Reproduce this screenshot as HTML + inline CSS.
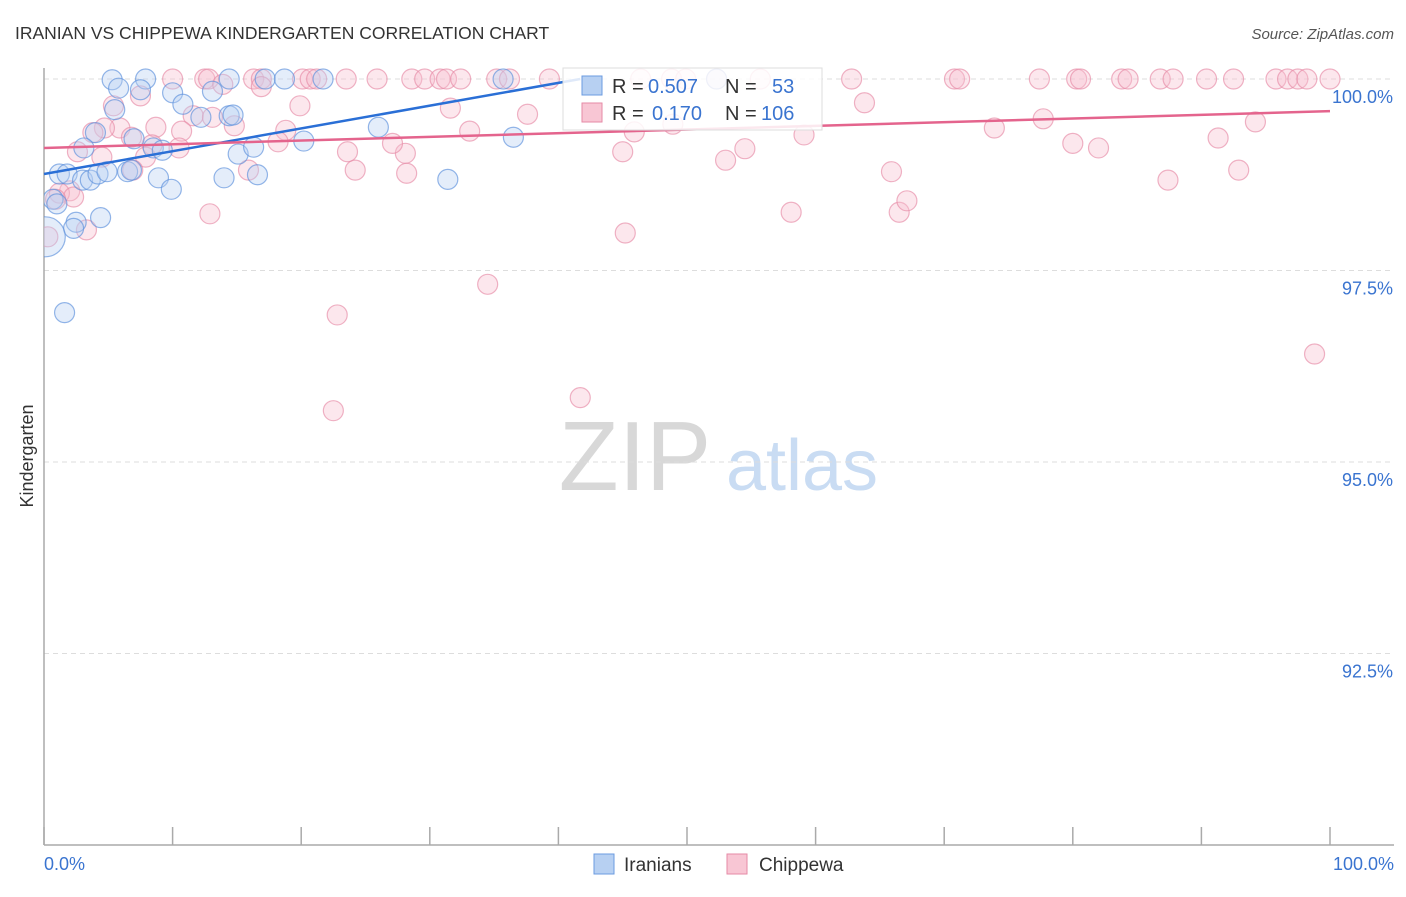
<!DOCTYPE html>
<html><head><meta charset="utf-8"><style>
body{margin:0;background:#fff;font-family:"Liberation Sans",sans-serif}
svg text{font-family:"Liberation Sans",sans-serif}
</style></head><body>
<svg id="chart" width="1406" height="892" viewBox="0 0 1406 892" xmlns="http://www.w3.org/2000/svg">
<defs><clipPath id="plotclip"><rect x="44" y="40" width="1360" height="805"/></clipPath></defs>
<text x="15" y="39" font-size="17.5" fill="#333">IRANIAN VS CHIPPEWA KINDERGARTEN CORRELATION CHART</text>
<text x="1394" y="39" font-size="15" fill="#555" text-anchor="end" font-style="italic">Source: ZipAtlas.com</text>
<g>
<text x="635" y="490" font-size="98" fill="#d8d8d8" font-family="Liberation Serif,serif" text-anchor="middle">ZIP</text>
<text x="802" y="490" font-size="72" fill="#c9dcf3" text-anchor="middle">atlas</text>
</g>
<g id="grid"></g>
<g id="axes"></g>
<g id="points" clip-path="url(#plotclip)"></g>
<g id="trends"></g>
<g>
<rect x="563" y="68" width="259" height="62" fill="#fff" fill-opacity="0.85" stroke="#ddd"/>
<rect x="582" y="76" width="20" height="19" fill="#b7d0f2" stroke="#6b9be0"/>
<text x="612" y="93" font-size="20" fill="#333">R = </text><text x="648" y="93" font-size="20" fill="#3a74d0">0.507</text>
<text x="725" y="93" font-size="20" fill="#333">N = </text><text x="772" y="93" font-size="20" fill="#3a74d0">53</text>
<rect x="582" y="103" width="20" height="19" fill="#f8c6d4" stroke="#e68aa6"/>
<text x="612" y="120" font-size="20" fill="#333">R = </text><text x="652" y="120" font-size="20" fill="#3a74d0">0.170</text>
<text x="725" y="120" font-size="20" fill="#333">N = </text><text x="761" y="120" font-size="20" fill="#3a74d0">106</text>
</g>
<g>
<rect x="594" y="854" width="20" height="20" fill="#b7d0f2" stroke="#6b9be0"/>
<text x="624" y="871" font-size="19" fill="#333">Iranians</text>
<rect x="727" y="854" width="20" height="20" fill="#f8c6d4" stroke="#e68aa6"/>
<text x="759" y="871" font-size="19" fill="#333">Chippewa</text>
</g>
<text transform="translate(33,456) rotate(-90)" font-size="18" fill="#333" text-anchor="middle">Kindergarten</text>
<text x="44" y="870" font-size="18" fill="#3a74d0">0.0%</text>
<text x="1394" y="870" font-size="18" fill="#3a74d0" text-anchor="end">100.0%</text>
</svg>
<script>
const yTicks=[100,97.5,95,92.5];
const yTickLabels=["100.0%","97.5%","95.0%","92.5%"];
const xTicks=[0,10,20,30,40,50,60,70,80,90,100];
const iranX=[5.3,7.9,14.4,17.2,18.7,21.7,35.7,52.3,5.8,7.5,10.0,10.8,13.1,5.5,12.2,14.4,14.7,26.0,4.0,7.0,8.5,9.2,15.1,16.3,20.2,36.5,3.1,1.2,1.8,3.0,3.6,4.2,4.9,6.5,6.8,8.9,9.9,14.0,16.6,31.4,0.7,1.0,2.5,2.3,4.4,0.1,1.6];
const iranY=[99.99,100,100,100,100,100,100,100,99.88,99.86,99.82,99.67,99.84,99.6,99.5,99.52,99.53,99.37,99.3,99.22,99.1,99.07,99.02,99.11,99.19,99.24,99.1,98.76,98.76,98.68,98.68,98.76,98.79,98.79,98.81,98.71,98.56,98.71,98.75,98.69,98.43,98.37,98.13,98.05,98.19,97.94,96.95];
const iranR=[10,10,10,10,10,10,10,10,10,10,10,10,10,10,10,10,10,10,10,10,10,10,10,10,10,10,10,10,10,10,10,10,10,10,10,10,10,10,10,10,10,10,10,10,10,20,10];
const chipX=[10.0,12.5,12.8,16.3,16.9,20.1,20.7,21.2,23.5,25.9,28.6,29.6,30.8,31.3,32.4,35.2,36.2,39.3,46.4,48.8,49.9,52.3,55.7,62.8,70.8,71.2,77.4,80.3,80.6,83.8,84.3,86.8,87.8,90.4,92.5,95.8,96.7,97.5,98.2,100,
7.5,16.9,13.9,19.9,31.6,63.8,37.6,11.6,13.1,14.8,8.7,10.7,18.8,33.1,45.9,48.9,73.9,77.7,94.2,91.3,59.1,80.0,82.0,54.5,53.0,45.0,28.1,23.6,27.1,18.2,10.5,8.4,5.9,4.7,3.8,5.4,6.8,2.6,4.5,7.9,6.9,15.9,24.2,28.2,65.9,87.4,92.9,2.0,1.2,2.3,0.9,3.3,12.9,58.1,66.5,67.1,45.2,34.5,22.8,22.5,41.7,98.8,0.3];
const chipY=[100,100,100,100,100,100,100,100,100,100,100,100,100,100,100,100,100,100,100,100,100,100,100,100,100,100,100,100,100,100,100,100,100,100,100,100,100,100,100,100,
99.78,99.9,99.93,99.65,99.62,99.69,99.54,99.52,99.5,99.39,99.37,99.32,99.33,99.32,99.31,99.41,99.36,99.48,99.44,99.23,99.27,99.16,99.1,99.09,98.94,99.05,99.03,99.05,99.16,99.18,99.1,99.14,99.36,99.36,99.3,99.65,99.24,99.05,98.98,98.98,98.81,98.81,98.81,98.77,98.79,98.68,98.81,98.54,98.51,98.46,98.43,98.03,98.24,98.26,98.26,98.41,97.99,97.32,96.92,95.67,95.84,96.41,97.94];
const iranTrendX=[0,41.7];
const iranTrendY=[98.76,100];
const chipTrendX=[0,100];
const chipTrendY=[99.1,99.58];
const NS="http://www.w3.org/2000/svg";
const xs=v=>44+v*12.86;
const ys=v=>79+(100-v)*76.6;
function mk(tag,attrs,parent){const e=document.createElementNS(NS,tag);for(const k in attrs)e.setAttribute(k,attrs[k]);parent.appendChild(e);return e;}
const grid=document.getElementById('grid'),axes=document.getElementById('axes'),pts=document.getElementById('points'),tr=document.getElementById('trends');
yTicks.forEach((t,i)=>{
 const l=mk('line',{x1:44,x2:1394,y1:ys(t),y2:ys(t),stroke:'#ddd','stroke-dasharray':'5,4'},grid);
 
 
 const tx=mk('text',{x:1393,y:ys(t)+24,'font-size':18,fill:'#3a74d0','text-anchor':'end'},grid);
 tx.textContent=yTickLabels[i];
 
 
});
const ya=mk('line',{x1:44,x2:44,y1:68,y2:845,stroke:'#aaa','stroke-width':1.5},axes);


const xa=mk('line',{x1:44,x2:1394,y1:845,y2:845,stroke:'#aaa','stroke-width':1.5},axes);


xTicks.forEach(t=>{
 const l=mk('line',{x1:xs(t),x2:xs(t),y1:827,y2:845,stroke:'#aaa','stroke-width':1.5},axes);
 
 
});
function drawPts(X,Y,R,fill,stroke,name){
 X.forEach((x,i)=>{
  const c=mk('circle',{cx:xs(x),cy:ys(Y[i]),r:R?R[i]:10,fill:fill,'fill-opacity':0.38,stroke:stroke,'stroke-opacity':0.65,'stroke-width':1.2},pts);
  
  
 });
}
drawPts(chipX,chipY,null,'#f8c0d0','#e68aa6','chippewa-point');
drawPts(iranX,iranY,iranR,'#b7d0f2','#5b8fdc','iranian-point');
const t1=mk('line',{x1:xs(iranTrendX[0]),y1:ys(iranTrendY[0]),x2:xs(iranTrendX[1]),y2:ys(iranTrendY[1]),stroke:'#2a6fd6','stroke-width':2.5},tr);


const t2=mk('line',{x1:xs(chipTrendX[0]),y1:ys(chipTrendY[0]),x2:xs(chipTrendX[1]),y2:ys(chipTrendY[1]),stroke:'#e4648d','stroke-width':2.5},tr);


</script>
</body></html>
